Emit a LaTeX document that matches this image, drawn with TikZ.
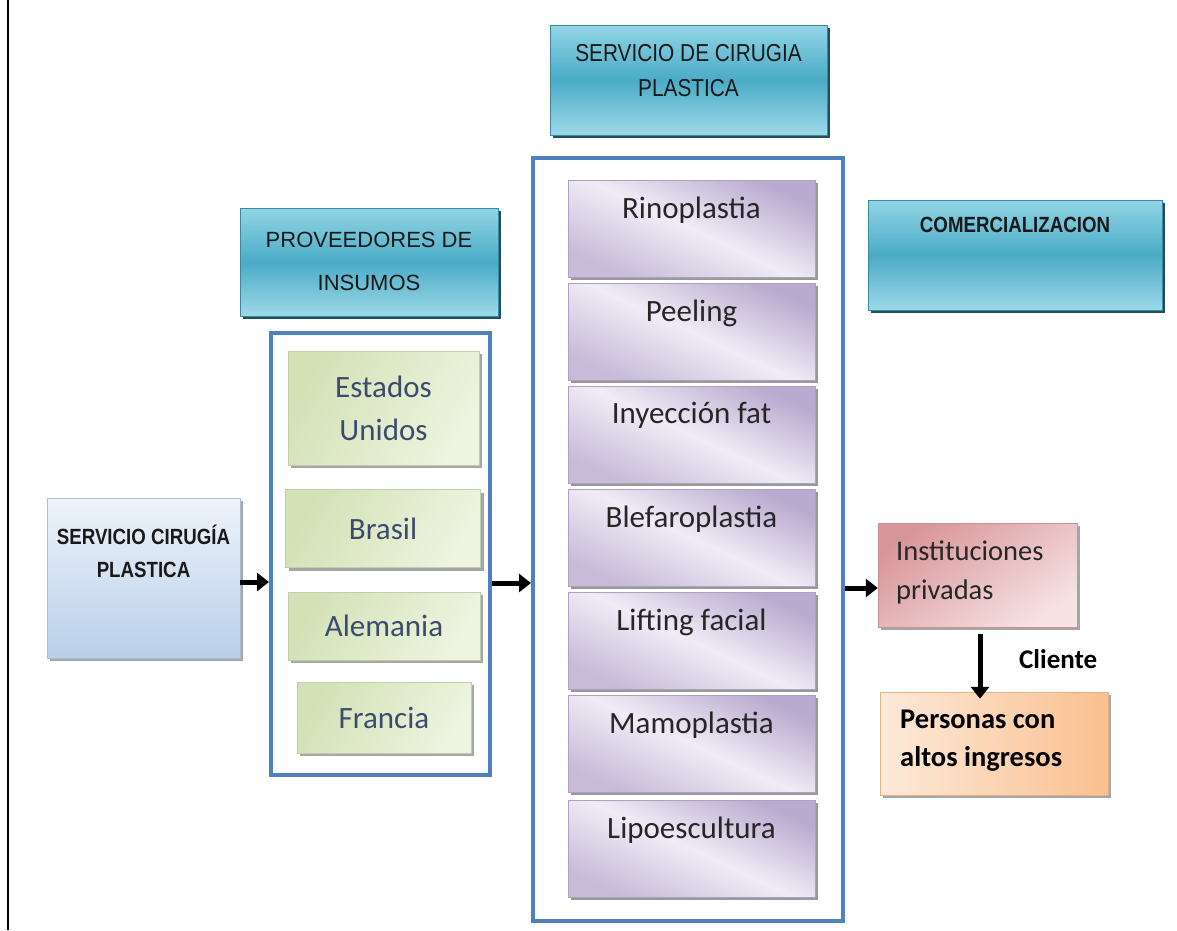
\documentclass[tikz,border=0pt]{standalone}
\usepackage{fontspec}
\setmainfont{Carlito}
\newfontfamily\hdr{Liberation Sans}
\newfontfamily\hdrn[FakeStretch=0.85]{Liberation Sans}
\usetikzlibrary{shadows,arrows.meta}
\definecolor{tealA}{HTML}{92D5E5}
\definecolor{tealB}{HTML}{4AABC6}
\definecolor{tealS}{HTML}{1F4F5C}
\definecolor{frameblue}{HTML}{4F81BD}
\definecolor{greenA}{HTML}{D3E1B6}
\definecolor{greenB}{HTML}{EEF4E0}
\definecolor{purpA}{HTML}{B9AACF}
\definecolor{purpB}{HTML}{F0ECF6}
\definecolor{blueA}{HTML}{EEF3FA}
\definecolor{blueB}{HTML}{B9CFEA}
\definecolor{pinkA}{HTML}{D9969A}
\definecolor{pinkB}{HTML}{F6E2E3}
\definecolor{orA}{HTML}{FAC08F}
\definecolor{orB}{HTML}{FDEADA}
\definecolor{txtblue}{HTML}{3A4C6E}
\tikzset{
  shad/.style={drop shadow={shadow xshift=3pt, shadow yshift=-3pt, fill=#1, opacity=1}},
  tealbox/.style={draw=tealB!80!black, line width=0.6pt, top color=tealA, bottom color=tealA!90!white, middle color=tealB,
     shad=tealS, inner sep=0pt, align=center, text=black!85},
  hdrtext/.style={align=center, text=black!90, inner sep=0pt},
  frame/.style={draw=frameblue, line width=4pt, inner sep=0pt},
  greenbox/.style={draw=greenA!80!gray, line width=0.4pt, left color=greenA, right color=greenB, shading angle=60,
     shad=gray!70, inner sep=0pt, align=center, text=txtblue, font=\fontsize{31}{43}\selectfont},
  purpbox/.style={draw=purpA!80!gray, line width=0.4pt, top color=purpA, bottom color=purpA!80!white, middle color=purpB, shading angle=-25,
     shad=gray!80, inner sep=0pt},
  plab/.style={anchor=north, yshift=-13pt, text=black!85, font=\fontsize{31}{36}\selectfont},
  arr/.style={-{Triangle[length=12pt,width=18pt]}, line width=5pt},
}
\begin{document}
\begin{tikzpicture}[x=1pt,y=-1pt]
\useasboundingbox[fill=white] (0,0) rectangle (1177,930);
% left rule
\draw[line width=2pt] (8,0) -- (8,930);

% left box
\node[draw=blueB!80!gray, line width=0.5pt, top color=blueA, bottom color=blueB, shad=gray!70,
  minimum width=193, minimum height=160, inner sep=0pt] (serv) at (143.5,578) {};
\node[hdrtext, font=\hdrn\bfseries\fontsize{22}{33}\selectfont]
  (servt) at (143.5,551.5) {SERVICIO CIRUG\'IA\\PLASTICA};

% proveedores
\node[tealbox, minimum width=258, minimum height=108] (prov) at (369,262) {};
\node[hdrtext, font=\hdr\fontsize{22}{43}\selectfont] (provt) at (369,261.5) {PROVEEDORES DE\\INSUMOS};
\node[frame, minimum width=219, minimum height=442] (provframe) at (380.5,554) {};
\node[greenbox, minimum width=191, minimum height=114] (eu) at (383.5,408) {Estados\\Unidos};
\node[greenbox, minimum width=195, minimum height=78] (br) at (383,528.5) {Brasil};
\node[greenbox, minimum width=192, minimum height=68] (al) at (384,626) {Alemania};
\node[greenbox, minimum width=174, minimum height=71] (fr) at (384,717.5) {Francia};

% servicio de cirugia plastica
\node[tealbox, minimum width=277, minimum height=110] (sdc) at (688.5,80) {};
\node[hdrtext, font=\hdrn\fontsize{24.5}{35}\selectfont] (sdct) at (688.5,70.5) {SERVICIO DE CIRUGIA\\PLASTICA};
\node[frame, minimum width=310, minimum height=763] (bigframe) at (688,539.5) {};
\node[purpbox, anchor=north, minimum width=247, minimum height=97, label={[plab]north:Rinoplastia}] (p1) at (691.5,180) {};
\node[purpbox, anchor=north, minimum width=247, minimum height=97, label={[plab]north:Peeling}] (p2) at (691.5,283) {};
\node[purpbox, anchor=north, minimum width=247, minimum height=97, label={[plab]north:Inyección fat}] (p3) at (691.5,386) {};
\node[purpbox, anchor=north, minimum width=247, minimum height=97, label={[plab]north:Blefaroplastia}] (p4) at (691.5,489) {};
\node[purpbox, anchor=north, minimum width=247, minimum height=97, label={[plab]north:Lifting facial}] (p5) at (691.5,592) {};
\node[purpbox, anchor=north, minimum width=247, minimum height=97, label={[plab]north:Mamoplastia}] (p6) at (691.5,695) {};
\node[purpbox, anchor=north, minimum width=247, minimum height=97, label={[plab]north:Lipoescultura}] (p7) at (691.5,800) {};

% comercializacion
\node[tealbox, minimum width=294, minimum height=110] (com) at (1015,255) {};
\node[hdrtext, font=\hdrn\bfseries\fontsize{22}{26}\selectfont] (comt) at (1015,225) {COMERCIALIZACION};

% instituciones / personas
\node[draw=pinkA!80!gray, line width=0.4pt, top color=pinkA, bottom color=pinkB, shading angle=35, shad=gray!70,
  minimum width=199, minimum height=104, inner sep=0pt] (inst) at (977.5,575) {};
\node[anchor=north west, align=left, font=\fontsize{28.5}{39}\selectfont, text=black!85, inner sep=0pt] (instt) at (896,541)
  {Instituciones\\privadas};
\node[draw=orA!80!gray, line width=0.4pt, left color=orB, right color=orA, shad=gray!70,
  minimum width=228, minimum height=103, inner sep=0pt] (pers) at (994,743.5) {};
\node[anchor=north west, align=left, font=\bfseries\fontsize{28.5}{38}\selectfont, text=black, inner sep=0pt] (perst) at (900,710)
  {Personas con\\altos ingresos};
\node[font=\bfseries\fontsize{27}{30}\selectfont, text=black, anchor=west, inner sep=0pt] (cli) at (1019,659) {Cliente};

% arrows
\draw[arr] ([yshift=-4pt]serv.east) -- ([yshift=-4pt]serv.east -| provframe.west);
\draw[arr] ([yshift=-29pt]provframe.east) -- ([yshift=-29pt]provframe.east -| bigframe.west);
\draw[arr] ([yshift=-13pt]inst.west -| bigframe.east) -- ([yshift=-13pt]inst.west);
\draw[arr] ([xshift=2.5pt,yshift=-7pt]inst.south) -- ([xshift=2.5pt,yshift=-7pt]inst.south |- pers.north);
\end{tikzpicture}
\end{document}
